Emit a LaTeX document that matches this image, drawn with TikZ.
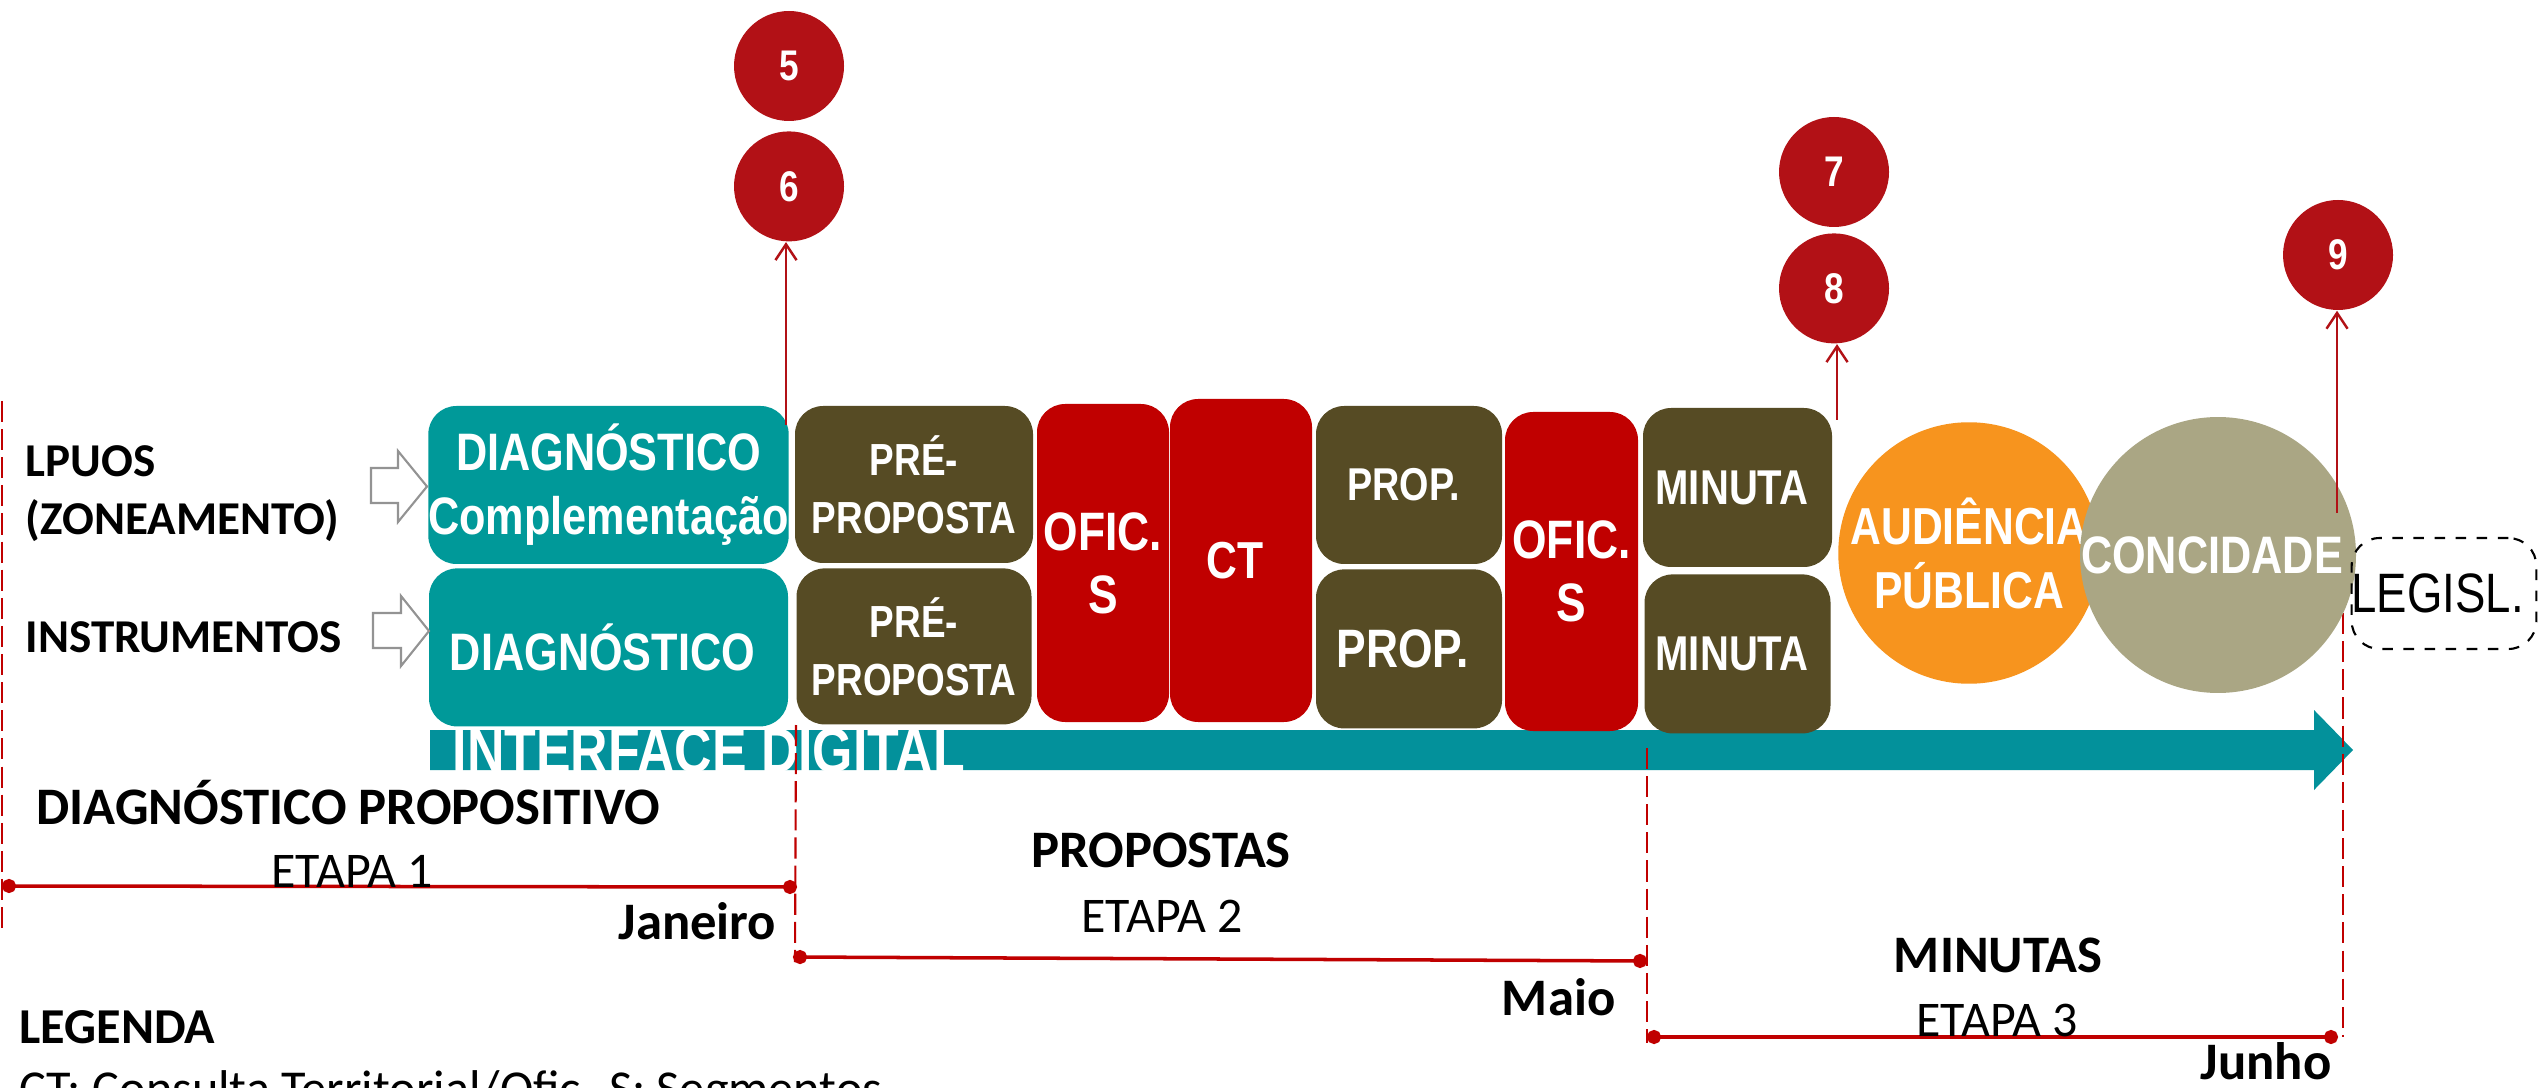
\documentclass[tikz,border=0pt]{standalone}
\usepackage{fontspec}
\setmainfont{Carlito}
\newfontfamily\estreita[FakeStretch=0.82]{Liberation Sans}
\usepackage{xcolor}
\usepackage{tikz}
\usetikzlibrary{positioning,arrows.meta}

\definecolor{verdeazul}{RGB}{0,153,153}
\definecolor{setateal}{RGB}{3,145,155}
\definecolor{oliva}{RGB}{86,75,36}
\definecolor{vermelho}{RGB}{192,0,0}
\definecolor{bolared}{RGB}{178,17,22}
\definecolor{laranja}{RGB}{247,148,30}
\definecolor{caqui}{RGB}{170,166,132}
\definecolor{linered}{RGB}{192,0,0}

\newcommand{\tamanho}[2]{\fontsize{#1}{#2}\selectfont}

\begin{document}
\begin{tikzpicture}[x=0.1mm,y=-0.1mm,
    caixa/.style={rectangle,rounded corners=8pt,inner sep=0pt,text=white,align=center},
    roda/.style={circle,inner sep=0pt,text=white,align=center},
    bola/.style={circle,fill=bolared,minimum size=1.1cm,inner sep=0pt,text=white,
        font=\estreita\bfseries\tamanho{12.2}{14}},
    rotulo/.style={inner sep=0pt,font=\bfseries\tamanho{13.4}{16}},
    titulo/.style={inner sep=0pt,font=\bfseries\tamanho{15}{18}},
    etapa/.style={inner sep=0pt,font=\tamanho{14.2}{17}},
    marco/.style={draw=linered,line width=0.6pt,dash pattern=on 6pt off 2pt},
    fase/.style={draw=linered,line width=1pt,{Circle[length=4pt]}-{Circle[length=4pt]}},
    seta/.style={draw=bolared,line width=0.7pt,-{Straight Barb[length=4.5pt,width=6pt]}},
    oca/.style={draw=gray!85,fill=white,line width=0.6pt}]

    \fill[white] (0,0) rectangle (2539,1088);
    \useasboundingbox (0,0) rectangle (2539,1088);

    % interface digital
    \fill[setateal] (430,730) -- (2314,730) -- (2314,710) -- (2353,750)
        -- (2314,790) -- (2314,770) -- (430,770) -- cycle;
    \node[inner sep=0pt,anchor=base west,text=white,font=\estreita\bfseries\tamanho{18}{20}]
        (interf) at (452,772) {INTERFACE DIGITAL};

    % marcos
    \coordinate (m0a) at (2,401);    \coordinate (m0b) at (2,931);
    \coordinate (m1a) at (796,725);  \coordinate (m1b) at (795,962);
    \coordinate (m2a) at (1647,748); \coordinate (m2b) at (1647,1043);
    \coordinate (m3a) at (2343,585); \coordinate (m3b) at (2343,1037);
    \draw[marco] (m0a) -- (m0b);
    \draw[marco] (m1a) -- (m1b);
    \draw[marco] (m2a) -- (m2b);
    \draw[marco] (m3a) -- (m3b);

    % etapas
    \coordinate (e1a) at (2,886);    \coordinate (e1b) at (797,887);
    \coordinate (e2a) at (793,957);  \coordinate (e2b) at (1647,961);
    \coordinate (e3a) at (1647,1037);\coordinate (e3b) at (2338,1037);
    \draw[fase] (e1a) -- (e1b);
    \draw[fase] (e2a) -- (e2b);
    \draw[fase] (e3a) -- (e3b);

    % caixas
    \node[caixa, fill=verdeazul, minimum width=3.57cm, minimum height=1.58cm,
        font=\estreita\bfseries\tamanho{15}{18.2}] (diag1) at (608.5,485)
    { DIAGNÓSTICO\\Complementação };

    \node[caixa, fill=verdeazul, minimum width=3.59cm, minimum height=1.58cm,
        font=\estreita\bfseries\tamanho{15}{18.2}, below=0.03cm of diag1] (diag2)
    { DIAGNÓSTICO };

    \node[caixa, fill=oliva, minimum width=2.38cm, minimum height=1.57cm,
        font=\estreita\bfseries\tamanho{12.8}{16.5}] (pre1) at (914,484.5)
    { PRÉ-\\PROPOSTA };

    \node[caixa, fill=oliva, minimum width=2.35cm, minimum height=1.56cm,
        font=\estreita\bfseries\tamanho{12.8}{16.5}, below=0.04cm of pre1] (pre2)
    { PRÉ-\\PROPOSTA };

    \node[caixa, fill=vermelho, minimum width=1.32cm, minimum height=3.18cm,
        font=\estreita\bfseries\tamanho{15.4}{17.9}] (ofic1) at (1103,563)
    { OFIC.\\S };

    \node[caixa, fill=vermelho, minimum width=1.42cm, minimum height=3.23cm,
        font=\estreita\bfseries\tamanho{14.8}{17}] (ct) at (1241,560.5)
    { CT };

    \node[caixa, fill=oliva, minimum width=1.86cm, minimum height=1.58cm,
        font=\estreita\bfseries\tamanho{13.1}{16}] (prop1) at (1409,485)
    { PROP. };

    \node[caixa, fill=oliva, minimum width=1.86cm, minimum height=1.59cm,
        font=\estreita\bfseries\tamanho{15.4}{17}, below=0.04cm of prop1] (prop2)
    { PROP. };

    \node[caixa, fill=vermelho, minimum width=1.33cm, minimum height=3.19cm,
        font=\estreita\bfseries\tamanho{15.4}{17.9}] (ofic2) at (1571.5,571.5)
    { OFIC.\\S };

    \node[caixa, fill=oliva, minimum width=1.89cm, minimum height=1.59cm,
        font=\estreita\bfseries\tamanho{13.9}{16}] (min1) at (1737.5,487.5)
    { MINUTA };

    \node[caixa, fill=oliva, minimum width=1.86cm, minimum height=1.59cm,
        font=\estreita\bfseries\tamanho{13.9}{16}, below=0.06cm of min1] (min2)
    { MINUTA };

    \node[roda, fill=laranja, minimum size=2.5cm,
        font=\estreita\bfseries\tamanho{14.8}{18.2}] (aud) at (1969,553)
    { AUDIÊNCIA\\PÚBLICA };

    \node[roda, fill=caqui, minimum size=2.48cm,
        font=\estreita\bfseries\tamanho{15}{18}] (conc) at (2218,555)
    { CONCIDADE };

    \node[caixa, draw=black, dashed, line width=0.6pt, text=black,
        minimum width=1.84cm, minimum height=1.11cm,
        font=\estreita\tamanho{15.8}{18}] (legisl) at (2444,593.5)
    { LEGISL. };

    % bolas
    \node[bola] (c5) at (789,66) {5};
    \node[bola, below=0.09cm of c5] (c6) {6};
    \node[bola] (c7) at (1834,172) {7};
    \node[bola, below=0.05cm of c7] (c8) {8};
    \node[bola] (c9) at (2338,255) {9};

    \coordinate (p6) at (786,425);
    \coordinate (p8) at (1837,420);
    \coordinate (p9) at (2337,513);
    \draw[seta] (p6) -- (p6 |- c6.south);
    \draw[seta] (p8) -- (p8 |- c8.south);
    \draw[seta] (p9) -- (p9 |- c9.south);

    % setas ocas
    \draw[oca] (371,468) -- (398,468) -- (398,451) -- (427,486.5)
        -- (398,522) -- (398,503) -- (371,503) -- cycle;
    \draw[oca] (373,613) -- (401,613) -- (401,596) -- (429,631)
        -- (401,666) -- (401,648) -- (373,648) -- cycle;

    % textos
    \node[rotulo, anchor=base west] (lpuos) at (25,477) {LPUOS};
    \node[rotulo, anchor=base west] (zonea) at (25,535) {(ZONEAMENTO)};
    \node[rotulo, anchor=base west] (instr) at (25,652) {INSTRUMENTOS};

    \node[titulo, anchor=base west] (dprop) at (36,824) {DIAGNÓSTICO PROPOSITIVO};
    \node[etapa, anchor=base] (et1) at (352,887) {ETAPA 1};
    \node[titulo, anchor=base east] (jan) at (777,939) {Janeiro};

    \node[titulo, anchor=base] (props) at (1161,867) {PROPOSTAS};
    \node[etapa, anchor=base] (et2) at (1162,932) {ETAPA 2};
    \node[titulo, anchor=base east] (maio) at (1616,1015) {Maio};

    \node[titulo, anchor=base] (minutas) at (1998,972) {MINUTAS};
    \node[etapa, anchor=base] (et3) at (1997,1036) {ETAPA 3};
    \node[titulo, anchor=base east] (junho) at (2332,1079) {Junho};

    \node[inner sep=0pt, anchor=base west, font=\bfseries\tamanho{14.3}{17}]
        (legenda) at (19,1043) {LEGENDA};
    \node[inner sep=0pt, anchor=base west, font=\tamanho{14.3}{17}]
        (legct) at (19,1105) {CT: Consulta Territorial/Ofic. S: Segmentos};
\end{tikzpicture}
\end{document}
